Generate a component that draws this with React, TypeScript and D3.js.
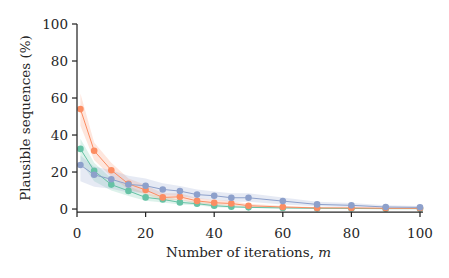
import * as d3 from "d3"

const iterations = [1, 5, 10, 15, 20, 25, 30, 35, 40, 45, 50, 60, 70, 80, 90, 100]

const greenMean = [32.5, 20.6, 13.2, 9.8, 6.3, 5.2, 3.6, 2.9, 1.8, 1.2, 0.9, 0.6, 0.4, 0.3, 0.2, 0.2]
const greenLow = [25.5, 15, 10, 7, 4.5, 3.5, 2.5, 2, 1, 0.7, 0.5, 0.3, 0.1, 0.1, 0.1, 0.1]
const greenHigh = [38, 25, 16.5, 12.5, 8.5, 7, 5, 4, 2.8, 2, 1.5, 1.1, 0.7, 0.6, 0.5, 0.5]

const orangeMean = [54, 31.5, 21, 13.6, 10.3, 6.3, 6.6, 4.4, 3.4, 3, 1.8, 1.1, 0.6, 0.6, 0.4, 0.4]
const orangeLow = [45, 26.5, 17.5, 10.5, 8, 4.5, 5, 3, 2, 1.8, 1, 0.5, 0.2, 0.2, 0.1, 0.1]
const orangeHigh = [62.5, 36, 25, 16.5, 13, 8.5, 8.5, 6, 5, 4.3, 2.8, 1.8, 1, 1, 0.8, 0.8]

const blueMean = [23.8, 18.5, 16.1, 13.3, 12.6, 10.6, 9.7, 7.8, 7.2, 6.1, 6.1, 4.3, 2.5, 2, 1.1, 0.9]
const blueLow = [15, 12, 11, 9, 9, 7.5, 7, 5.5, 5, 4, 4, 2.5, 1.5, 1, 0.5, 0.4]
const blueHigh = [29, 23, 21, 18, 16.5, 14, 12.5, 10.5, 9.5, 8.5, 8.5, 6.2, 4, 3.2, 2, 1.6]

const xTicks = [0, 20, 40, 60, 80, 100]
const yTicks = [0, 20, 40, 60, 80, 100]

const series = [
  { name: "green", color: "#66c2a5", mean: greenMean, low: greenLow, high: greenHigh },
  { name: "orange", color: "#fc8d62", mean: orangeMean, low: orangeLow, high: orangeHigh },
  { name: "blue", color: "#8da0cb", mean: blueMean, low: blueLow, high: blueHigh },
]

const W = 449
const H = 278
const font = '"DejaVu Serif", "Liberation Serif", serif'
const ink = "#262626"
const fs = 13.5

export default function App() {
  const x = d3.scaleLinear().domain([0, 100]).range([77, 420])
  const y = d3.scaleLinear().domain([-1.6, 100]).range([212, 24])

  const line = d3
    .line<number>()
    .x((_, i) => x(iterations[i]))
    .y((d) => y(d))

  const band = (low: number[], high: number[]) =>
    d3
      .area<number>()
      .x((_, i) => x(iterations[i]))
      .y0((_, i) => y(low[i]))
      .y1((_, i) => y(high[i]))(iterations)

  const textStyle = { fontFamily: font, fontSize: fs }

  return (
    <svg
      width={W}
      height={H}
      style={{ position: "absolute", left: 0, top: 0, background: "#fff" }}
    >
      {series.map((s) => (
        <path key={s.name + "band"} d={band(s.low, s.high) || ""} fill={s.color} opacity={0.22} />
      ))}
      {series.map((s) => (
        <g key={s.name}>
          <path d={line(s.mean) || ""} fill="none" stroke={s.color} strokeWidth={1} />
          {s.mean.map((v, i) => (
            <circle key={i} cx={x(iterations[i])} cy={y(v)} r={3.3} fill={s.color} />
          ))}
        </g>
      ))}

      <line x1={77} x2={77} y1={y(100)} y2={212} stroke={ink} strokeWidth={1.25} />
      <line x1={77} x2={423} y1={212} y2={212} stroke={ink} strokeWidth={1.25} />

      {yTicks.map((t) => (
        <g key={"y" + t} transform={`translate(77,${y(t)})`}>
          <line x1={-5} x2={0} stroke={ink} strokeWidth={1.25} />
          <text x={-9} dy="0.36em" textAnchor="end" style={textStyle} fill={ink}>
            {t}
          </text>
        </g>
      ))}
      {xTicks.map((t) => (
        <g key={"x" + t} transform={`translate(${x(t)},212)`}>
          <line y1={0} y2={5} stroke={ink} strokeWidth={1.25} />
          <text y={21} dy="0.36em" textAnchor="middle" style={textStyle} fill={ink}>
            {t}
          </text>
        </g>
      ))}

      <text x={(77 + 420) / 2} y={257} textAnchor="middle" style={textStyle} fill={ink}>
        Number of iterations, <tspan fontStyle="italic">m</tspan>
      </text>
      <text
        transform={`translate(30,${(24 + 212) / 2}) rotate(-90)`}
        textAnchor="middle"
        style={textStyle}
        fill={ink}
      >
        Plausible sequences (%)
      </text>
    </svg>
  )
}
